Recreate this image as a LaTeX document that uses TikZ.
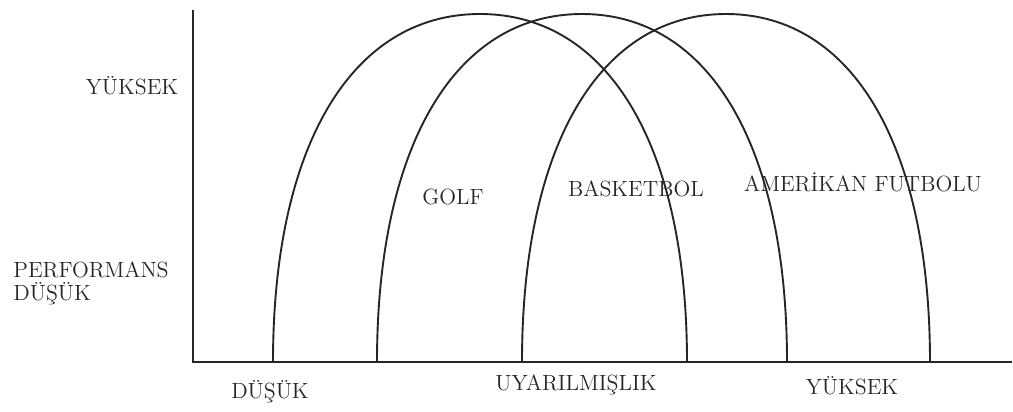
\documentclass[tikz,border=0pt]{standalone}
\usepackage{fontspec}
\begin{document}
\begin{tikzpicture}[x=0.5pt,y=-0.5pt,
  axis/.style={line width=1.2pt,black!85},
  arch/.style={line width=0.95pt,black!85},
  lbl/.style={inner sep=0pt,font=\fontsize{11}{13}\selectfont,text=black!85}]
\useasboundingbox (0,0) rectangle (1013,412);
% axes
\coordinate (top) at (193,10);
\coordinate (origin) at (193,362);
\coordinate (xend) at (1012,362);
\draw[axis] (top) -- (origin) -- (xend);
% arches: left foot, center, right foot
\foreach \l/\c/\r in {273/480/687, 377/582/787, 522/726/930}{
  \pgfmathsetmacro{\kx}{0.62*(\c-\l)}
  \draw[arch] (\l,362) .. controls (\l,146) and (\c-\kx,14) .. (\c,14)
                       .. controls (\c+\kx,14) and (\r,146) .. (\r,362);
}
% labels
\node[lbl] (yhigh) at (132,86) {YÜKSEK};
\node[lbl,anchor=west] (perf) at (13,270) {PERFORMANS};
\node[lbl,anchor=west] (ylow) at (13,294) {DÜŞÜK};
\node[lbl] (xlow) at (270,392) {DÜŞÜK};
\node[lbl] (xmid) at (576,385) {UYARILMIŞLIK};
\node[lbl] (xhigh) at (852,386) {YÜKSEK};
\node[lbl] (golf) at (453,197) {GOLF};
\node[lbl] (bask) at (636,189) {BASKETBOL};
\node[lbl] (amf) at (863,182) {AMERİKAN FUTBOLU};
\end{tikzpicture}
\end{document}
